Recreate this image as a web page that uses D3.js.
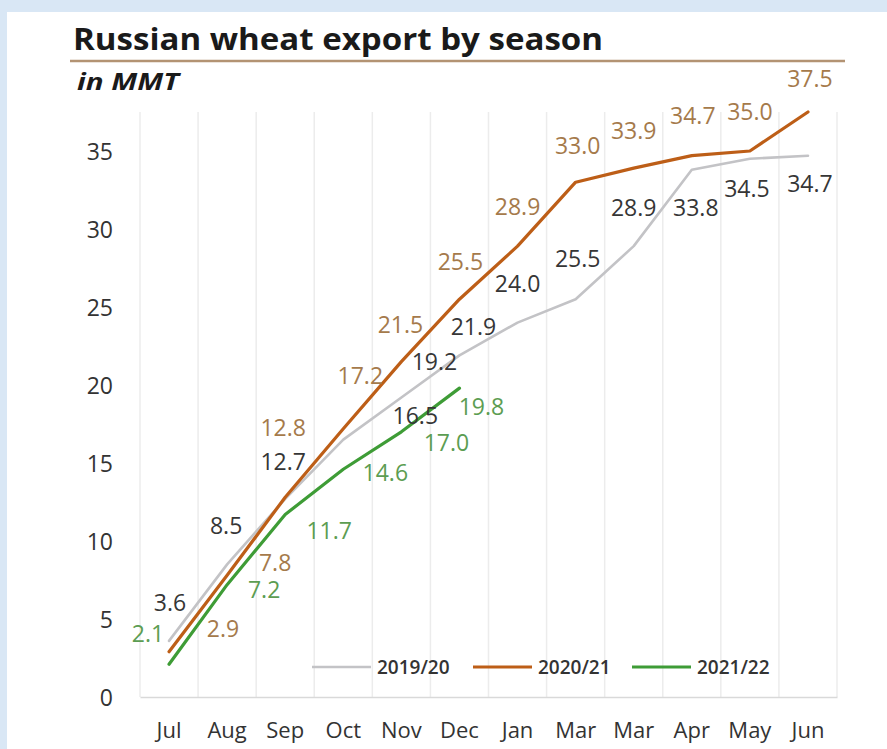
<!DOCTYPE html>
<html>
<head>
<meta charset="utf-8">
<script src="https://cdn.jsdelivr.net/npm/d3@7"></script>
<style>
  html, body { margin: 0; padding: 0; background: #d9e7f5; }
  svg { display: block; }
  text { font-family: "Open Sans", "Noto Sans", sans-serif; }
</style>
</head>
<body>
<svg id="chart" width="887" height="749"></svg>
<script>
// Monthly cumulative Russian wheat exports, million metric tonnes
const months = ["Jul", "Aug", "Sep", "Oct", "Nov", "Dec", "Jan", "Mar", "Mar", "Apr", "May", "Jun"];
const seasons = ["2019/20", "2020/21", "2021/22"];
const export2019 = [3.6, 8.5, 12.7, 16.5, 19.2, 21.9, 24.0, 25.5, 28.9, 33.8, 34.5, 34.7];
const export2020 = [2.9, 7.8, 12.8, 17.2, 21.5, 25.5, 28.9, 33.0, 33.9, 34.7, 35.0, 37.5];
const export2021 = [2.1, 7.2, 11.7, 14.6, 17.0, 19.8];
const yTicks = [0, 5, 10, 15, 20, 25, 30, 35];

// Hand-placed data label nudges (dx, dy from each point)
const nudge2019 = [[1,-38],[-1,-39],[-2,-37],[72,-24],[33,-36],[14,-29],[0,-39],[2,-40],[0,-38],[4,38],[-3,30],[2,28]];
const nudge2020 = [[54,-23],[48,-13],[-2,-70],[17,-53],[-1,-37],[1,-37],[0,-39],[2,-36],[0,-37],[1,-40],[0,-39],[2,-33]];
const nudge2021 = [[-21,-31],[37,5],[44,16],[42,3],[45,11],[22,19]];

const series = [
  { name: seasons[0], values: export2019, nudge: nudge2019, line: "#c3c3c6", label: "#363636", width: 2.6 },
  { name: seasons[1], values: export2020, nudge: nudge2020, line: "#bd5e17", label: "#a57a4b", width: 3.2 },
  { name: seasons[2], values: export2021, nudge: nudge2021, line: "#3e9c36", label: "#5c9d52", width: 3.2 }
];

const svg = d3.select("#chart");

// white card
svg.append("rect").attr("x", 7).attr("y", 12).attr("width", 880).attr("height", 737).attr("fill", "#ffffff");

const plot = { left: 140, right: 837, top: 112, bottom: 697 };

const x = d3.scaleBand()
  .domain(d3.range(months.length))
  .range([plot.left, plot.right])
  .paddingInner(0).paddingOuter(0);

const y = d3.scaleLinear().domain([0, 37.5]).range([plot.bottom, plot.top]);

const cx = i => x(i) + x.bandwidth() / 2;

// vertical gridlines at category boundaries
const bounds = d3.range(months.length + 1).map(i => plot.left + i * x.bandwidth());
svg.append("g").selectAll("line").data(bounds).join("line")
  .attr("x1", d => d).attr("x2", d => d)
  .attr("y1", plot.top).attr("y2", plot.bottom)
  .attr("stroke", "#ececec").attr("stroke-width", 1.5);

// horizontal axis
const xAxis = d3.axisBottom(x).tickSize(0).tickPadding(0).tickFormat(i => months[i]);
const gx = svg.append("g").attr("transform", `translate(0,${plot.bottom})`).call(xAxis);
gx.select(".domain").attr("stroke", "#d9d9d9").attr("stroke-width", 1.5);
gx.selectAll("text")
  .attr("y", 41).attr("dy", 0)
  .attr("fill", "#333333")
  .style("font-size", "22px");

// vertical axis labels only
const yAxis = d3.axisLeft(y).tickValues(yTicks).tickSize(0).tickPadding(0);
const gy = svg.append("g").attr("transform", `translate(113,0)`).call(yAxis);
gy.select(".domain").remove();
gy.selectAll("text")
  .attr("x", 0).attr("dy", "0.35em")
  .attr("fill", "#333333")
  .style("font-size", "23px");

// title block
svg.append("text").attr("x", 73).attr("y", 50)
  .attr("fill", "#1a1a1a")
  .attr("textLength", 530).attr("lengthAdjust", "spacingAndGlyphs")
  .style("font-size", "31px").style("font-weight", "700")
  .text("Russian wheat export by season");
svg.append("line").attr("x1", 70).attr("x2", 845).attr("y1", 61).attr("y2", 61)
  .attr("stroke", "#b39373").attr("stroke-width", 2.5);
svg.append("text").attr("x", 77).attr("y", 90)
  .attr("fill", "#1a1a1a")
  .attr("textLength", 102).attr("lengthAdjust", "spacingAndGlyphs")
  .style("font-size", "23px").style("font-weight", "700").style("font-style", "italic")
  .text("in MMT");

// lines
const line = d3.line()
  .x((d, i) => cx(i))
  .y(d => y(d));

series.forEach(s => {
  svg.append("path")
    .datum(s.values)
    .attr("fill", "none")
    .attr("stroke", s.line)
    .attr("stroke-width", s.width)
    .attr("stroke-linejoin", "round")
    .attr("stroke-linecap", "round")
    .attr("d", line);
});

// data labels
series.forEach(s => {
  svg.append("g").selectAll("text").data(s.values).join("text")
    .attr("x", (d, i) => cx(i) + s.nudge[i][0])
    .attr("y", (d, i) => y(d) + s.nudge[i][1])
    .attr("text-anchor", "middle")
    .attr("dy", "0.36em")
    .attr("fill", s.label)
    .style("font-size", "23px")
    .text(d => d.toFixed(1));
});

// legend
const legendX = [312, 473, 632];
const lg = svg.append("g");
series.forEach((s, k) => {
  lg.append("line")
    .attr("x1", legendX[k]).attr("x2", legendX[k] + 59)
    .attr("y1", 667).attr("y2", 667)
    .attr("stroke", s.line).attr("stroke-width", s.width);
  lg.append("text")
    .attr("x", legendX[k] + 65).attr("y", 667).attr("dy", "0.35em")
    .attr("fill", "#333333")
    .style("font-size", "19px").style("font-weight", "600")
    .text(s.name);
});
</script>
</body>
</html>
